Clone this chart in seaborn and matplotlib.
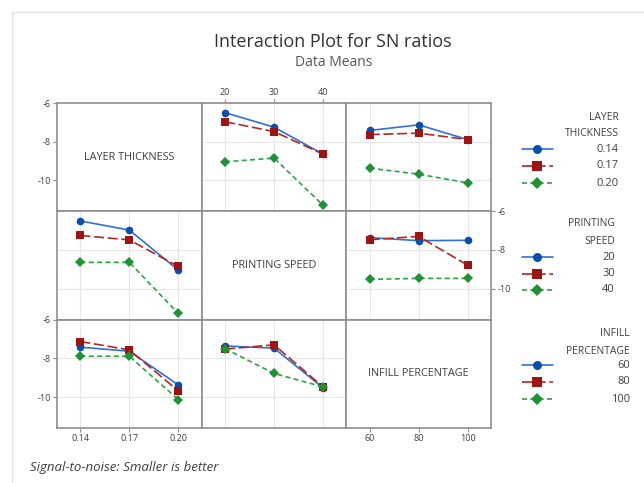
import matplotlib
matplotlib.use("Agg")
import numpy as np
import pandas as pd
import matplotlib.pyplot as plt
import seaborn as sns
from matplotlib.lines import Line2D
from matplotlib.patches import Rectangle

sns.set_theme(style="white")
plt.rcParams['font.family'] = ['Open Sans', 'DejaVu Sans']

# ---------------- data ----------------
factor_names = ["LAYER THICKNESS", "PRINTING SPEED", "INFILL PERCENTAGE"]
legend_titles = ["LAYER\nTHICKNESS", "PRINTING\nSPEED", "INFILL\nPERCENTAGE"]
lt_levels = [0.14, 0.17, 0.20]
ps_levels = [20, 30, 40]
ip_levels = [60, 80, 100]
lt_labels = ["0.14", "0.17", "0.20"]
ps_labels = ["20", "30", "40"]
ip_labels = ["60", "80", "100"]

# mean SN ratios: rows = levels of first factor, cols = levels of second factor
lt_ps_means = [[-6.50, -7.25, -8.64],
               [-6.97, -7.48, -8.64],
               [-9.04, -8.85, -11.28]]
lt_ip_means = [[-7.42, -7.13, -7.89],
               [-7.63, -7.56, -7.89],
               [-9.37, -9.68, -10.13]]
ps_ip_means = [[-7.36, -7.52, -7.50],
               [-7.47, -7.30, -8.78],
               [-9.52, -9.47, -9.47]]

y_ticks = [-6, -8, -10]
y_lim = (-11.6, -6.0)

levels = [lt_levels, ps_levels, ip_levels]
labels = [lt_labels, ps_labels, ip_labels]
pair_tables = {(0, 1): lt_ps_means, (0, 2): lt_ip_means, (1, 2): ps_ip_means}


def table(i, j):
    if (i, j) in pair_tables:
        return np.array(pair_tables[(i, j)])
    return np.array(pair_tables[(j, i)]).T


line_colors = ["#2e72d2", "#b42626", "#2fa040"]
marker_colors = ["#0d4fa6", "#9c1515", "#229136"]
markers = ["o", "s", "D"]
dashes = ["", (6, 2.2), (3, 2)]

# ---------------- layout ----------------
W, H = 644, 483
fig = plt.figure(figsize=(W / 100, H / 100), dpi=100)
fig.patch.set_facecolor("white")

col_l = [57, 201.7, 346.3]
cw = 144.7
row_t = [103, 211.3, 319.7]
rh = 108.3

spine_c = "#8f8f8f"
txt_c = "#404040"

for i in range(3):
    for j in range(3):
        ax = fig.add_axes([col_l[j] / W, 1 - (row_t[i] + rh) / H, cw / W, rh / H])
        lv = levels[j]
        step = lv[1] - lv[0]
        ax.set_xlim(lv[0] - 0.48 * step, lv[-1] + 0.48 * step)
        ax.set_ylim(*y_lim)
        ax.set_xticks(lv)
        ax.set_xticklabels(labels[j])
        ax.set_yticks(y_ticks)
        ax.set_yticklabels([str(t) for t in y_ticks])
        for s in ax.spines.values():
            s.set_color(spine_c)
            s.set_linewidth(1.2)
        if i != j:
            ax.grid(True, color="#e6e6e6", linewidth=0.8)
            ax.set_axisbelow(True)
            M = table(i, j)
            rows = []
            for a, glab in enumerate(labels[i]):
                for b, xv in enumerate(lv):
                    rows.append({"x": xv, "y": M[a, b], "g": glab})
            df = pd.DataFrame(rows)
            sns.lineplot(data=df, x="x", y="y", hue="g", style="g",
                         hue_order=labels[i], style_order=labels[i],
                         palette=line_colors, markers=markers, dashes=dashes,
                         errorbar=None, legend=False, ax=ax,
                         linewidth=1.2, markersize=5.5, markeredgewidth=0)
            for k, ln in enumerate(ax.lines[:3]):
                ln.set_markerfacecolor(marker_colors[k])
                ln.set_markeredgecolor(marker_colors[k])
        else:
            ax.grid(False)
            ax.text(0.5, 0.5, factor_names[i], transform=ax.transAxes,
                    ha="center", va="center", fontsize=7.8, color=txt_c)
        ax.set_xlabel("")
        ax.set_ylabel("")
        show_left = (j == 0 and i in (0, 2))
        show_right = (j == 2 and i == 1)
        ax.tick_params(axis="y", left=show_left, labelleft=show_left,
                       right=show_right, labelright=show_right,
                       length=3, width=0.8, color=spine_c, labelsize=6.5,
                       labelcolor=txt_c, pad=1.5)
        show_bottom = (i == 2 and j in (0, 2))
        show_top = (i == 0 and j == 1)
        ax.tick_params(axis="x", bottom=show_bottom, labelbottom=show_bottom,
                       top=show_top, labeltop=show_top,
                       length=3, width=0.8, color=spine_c, labelsize=6.5,
                       labelcolor=txt_c, pad=1.5)

# ---------------- overlay: legends, titles, frame ----------------
ov = fig.add_axes([0, 0, 1, 1], zorder=10)
ov.set_xlim(0, W)
ov.set_ylim(H, 0)
ov.axis("off")
ov.patch.set_alpha(0)

ov.add_patch(Rectangle((12, 12), W, H, fill=False, edgecolor="#e2e2e2", linewidth=1.0))

fig.text(333 / W, 1 - 42 / H, "Interaction Plot for SN ratios", ha="center", va="center",
         fontsize=13, color="#333333")
fig.text(334 / W, 1 - 62 / H, "Data Means", ha="center", va="center",
         fontsize=10, color="#555555")
fig.text(30 / W, 1 - 468 / H, "Signal-to-noise: Smaller is better", ha="left", va="center",
         fontsize=9.5, color="#404040", style="italic")

leg_specs = [
    (legend_titles[0], lt_labels, [117, 133], [149, 166, 183], 619),
    (legend_titles[1], ps_labels, [223, 241], [257, 274, 290], 615),
    (legend_titles[2], ip_labels, [334, 351], [365, 382, 399], 630),
]
for title, labs, ty, ey, xr in leg_specs:
    for k, line in enumerate(title.split("\n")):
        ov.text(xr, ty[k], line, ha="right", va="center", fontsize=7.5, color=txt_c)
    for k, lab in enumerate(labs):
        d = dashes[k]
        ln = Line2D([522, 553], [ey[k], ey[k]], color=line_colors[k], linewidth=1.2)
        if d != "":
            ln.set_dashes(d)
        ov.add_line(ln)
        ov.add_line(Line2D([537.5], [ey[k]], marker=markers[k], color=marker_colors[k],
                           markersize=6.5, markeredgewidth=0, linestyle="none"))
        ov.text(xr, ey[k], lab, ha="right", va="center", fontsize=8, color=txt_c)

fig.savefig("out.png", dpi=100, facecolor="white")
